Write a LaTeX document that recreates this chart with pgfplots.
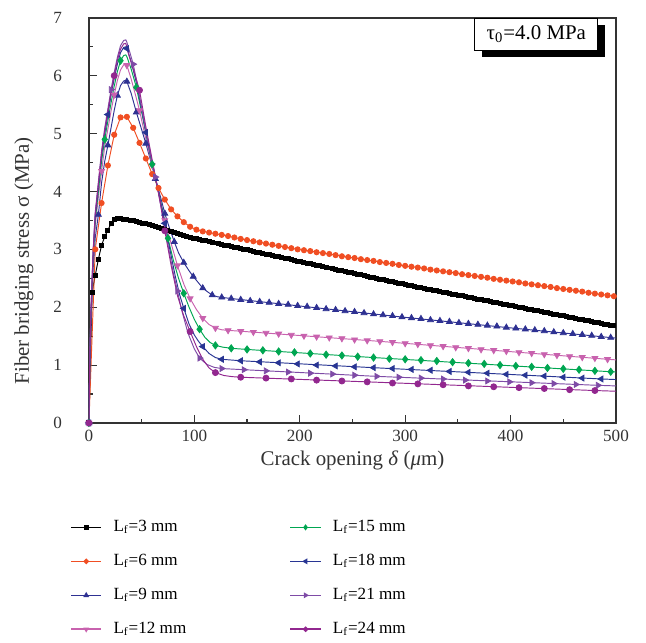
\documentclass[border=0pt]{standalone}
\usepackage{fontspec}
\setmainfont{Liberation Serif}
\usepackage{pgfplots}
\pgfplotsset{compat=1.18}
\usetikzlibrary{shadows}
\definecolor{cRed}{HTML}{F04E23}
\definecolor{cBlue}{HTML}{2E3192}
\definecolor{cPink}{HTML}{C862AE}
\definecolor{cGreen}{HTML}{00A651}
\definecolor{cBlueB}{HTML}{283593}
\definecolor{cPurple}{HTML}{7E4BA6}
\definecolor{cMag}{HTML}{92278F}
\definecolor{axgray}{HTML}{333333}
\begin{document}
\begin{tikzpicture}
\useasboundingbox (-46.8pt,-115.3pt) rectangle (293.2pt,222.6pt);
\begin{axis}[
  at={(0,0)}, anchor=south west,
  scale only axis, width=277.4pt, height=213.2pt,
  xmin=0, xmax=500, ymin=0, ymax=7,
  xtick={0,100,...,500}, ytick={0,1,...,7},
  minor x tick num=1, minor y tick num=1,
  xtick pos=bottom, ytick pos=left,
  tick align=inside,
  major tick length=4pt, minor tick length=2pt,
  axis line style={axgray, line width=0.7pt},
  tick style={axgray, line width=0.6pt},
  tick label style={font=\fontsize{9}{11}\selectfont, text=axgray},
  /pgf/number format/assume math mode=true,
  yticklabel style={xshift=-10.7pt},
  every axis x label/.style={at={(axis description cs:0.5,-0.105)}, anchor=base, font=\fontsize{11}{13}\selectfont, text=axgray},
  every axis y label/.style={at={(axis description cs:-0.114,0.40)}, rotate=90, anchor=base, font=\fontsize{11}{13}\selectfont, text=axgray},
  xlabel={Crack opening \textit{δ} (\textit{μ}m)},
  ylabel={Fiber bridging stress σ (MPa)},
  legend columns=4, transpose legend,
  legend cell align=left,
  legend style={draw=none, fill=none, at={(axis description cs:-0.036,-0.23)}, anchor=north west, inner sep=0pt, row sep=6.4pt, font=\fontsize{9}{11}\selectfont,
    /tikz/every odd column/.append style={column sep=4pt},
    /tikz/every even column/.append style={column sep=52.4pt}},
  legend image code/.code={\draw[mark repeat=2,mark phase=2,#1,mark size=1.0pt,line width=0.8pt] plot coordinates {(0cm,0cm) (0.28cm,0cm) (0.56cm,0cm)};},
]
% ---------- legend images ----------
\addlegendimage{black, mark=square*}
\addlegendentry{L\textsubscript{f}=3 mm}
\addlegendimage{cRed, mark=*}
\addlegendentry{L\textsubscript{f}=6 mm}
\addlegendimage{cBlue, mark=triangle*}
\addlegendentry{L\textsubscript{f}=9 mm}
\addlegendimage{cPink, mark=triangle*, mark options={rotate=180}}
\addlegendentry{L\textsubscript{f}=12 mm}
\addlegendimage{cGreen, mark=diamond*}
\addlegendentry{L\textsubscript{f}=15 mm}
\addlegendimage{cBlueB, mark=triangle*, mark options={rotate=90}}
\addlegendentry{L\textsubscript{f}=18 mm}
\addlegendimage{cPurple, mark=triangle*, mark options={rotate=-90}}
\addlegendentry{L\textsubscript{f}=21 mm}
\addlegendimage{cMag, mark=*}
\addlegendentry{L\textsubscript{f}=24 mm}

% ---------- Lf = 3 mm ----------
\addplot[forget plot, black, line width=0.5pt, mark=square*, mark size=1.05pt] coordinates {
(0,0)(3,2.25)(6,2.55)(9,2.83)(12,3.07)(15,3.22)(18,3.33)(21,3.45)(24,3.51)(27,3.535)(30,3.535)(33,3.52)(36,3.51)(39,3.50)(42,3.492)(45,3.48)(48,3.468)(51,3.455)(54,3.44)(57,3.425)(60,3.41)(63,3.392)(66,3.374)(69,3.356)(72,3.338)(75,3.32)(78,3.302)(81,3.285)(84,3.27)(87,3.255)(90,3.24)(93,3.225)(96,3.21)(99,3.195)(102,3.182)(105,3.17)(108,3.158)(111,3.146)(114,3.134)(117,3.122)(120,3.11)(123,3.098)(126,3.086)(129,3.074)(132,3.062)(135,3.05)(138,3.038)(141,3.026)(144,3.014)(147,3.002)(150,2.99)(153,2.978)(156,2.966)(159,2.954)(162,2.942)(165,2.93)(168,2.918)(171,2.906)(174,2.894)(177,2.882)(180,2.87)(183,2.858)(186,2.846)(189,2.834)(192,2.822)(195,2.81)(198,2.798)(201,2.786)(204,2.774)(207,2.762)(210,2.75)(213,2.738)(216,2.726)(219,2.714)(222,2.702)(225,2.69)(228,2.678)(231,2.666)(234,2.654)(237,2.642)(240,2.63)(243,2.618)(246,2.606)(249,2.594)(252,2.582)(255,2.57)(258,2.558)(261,2.546)(264,2.534)(267,2.522)(270,2.51)(273,2.498)(276,2.486)(279,2.474)(282,2.462)(285,2.45)(288,2.438)(291,2.426)(294,2.414)(297,2.402)(300,2.39)(303,2.379)(306,2.368)(309,2.357)(312,2.347)(315,2.336)(318,2.325)(321,2.314)(324,2.304)(327,2.293)(330,2.282)(333,2.271)(336,2.260)(339,2.250)(342,2.239)(345,2.228)(348,2.217)(351,2.206)(354,2.196)(357,2.185)(360,2.174)(363,2.163)(366,2.152)(369,2.142)(372,2.131)(375,2.12)(378,2.109)(381,2.098)(384,2.088)(387,2.077)(390,2.066)(393,2.055)(396,2.044)(399,2.034)(402,2.023)(405,2.012)(408,2.001)(411,1.990)(414,1.980)(417,1.969)(420,1.958)(423,1.947)(426,1.936)(429,1.926)(432,1.915)(435,1.904)(438,1.893)(441,1.882)(444,1.872)(447,1.861)(450,1.85)(453,1.839)(456,1.828)(459,1.818)(462,1.807)(465,1.796)(468,1.785)(471,1.774)(474,1.764)(477,1.753)(480,1.742)(483,1.731)(486,1.720)(489,1.710)(492,1.699)(495,1.688)(498,1.677)
};

% ---------- Lf = 6 mm ----------
\addplot[forget plot, cRed, line width=0.5pt, mark=*, mark size=1.35pt] coordinates {
(0,0)(6,3.0)(12,3.8)(18,4.45)(24,4.98)(30,5.28)(36,5.29)(42,5.10)(48,4.84)(54,4.57)(60,4.30)(66,4.06)(72,3.86)(78,3.69)(84,3.57)(90,3.47)(96,3.39)(102,3.34)(108,3.31)(114,3.29)(120,3.27)(126,3.25)(132,3.23)(138,3.205)(144,3.18)(150,3.16)(156,3.14)(162,3.12)(168,3.10)(174,3.08)(180,3.06)(186,3.04)(192,3.02)(198,3.00)(204,2.985)(210,2.97)(216,2.95)(222,2.935)(228,2.92)(234,2.90)(240,2.88)(246,2.865)(252,2.85)(258,2.83)(264,2.815)(270,2.80)(276,2.78)(282,2.765)(288,2.75)(294,2.73)(300,2.715)(306,2.70)(312,2.685)(318,2.67)(324,2.65)(330,2.635)(336,2.62)(342,2.605)(348,2.59)(354,2.57)(360,2.555)(366,2.54)(372,2.525)(378,2.51)(384,2.49)(390,2.475)(396,2.46)(402,2.445)(408,2.43)(414,2.41)(420,2.395)(426,2.38)(432,2.365)(438,2.35)(444,2.33)(450,2.315)(456,2.30)(462,2.285)(468,2.27)(474,2.25)(480,2.235)(486,2.22)(492,2.205)(498,2.19)
};

% ---------- Lf = 9 mm ----------
\addplot[forget plot, cBlue, line width=0.5pt, no marks] coordinates {
(0,0)(1,1.18)(2,1.78)(4,2.66)(6,3.2)(9,3.6)(12,4.15)(15,4.52)(18,4.8)(21,5.1)(24,5.4)(27,5.66)(30,5.83)(33,5.91)(35,5.92)(36,5.9)(40,5.7)(45,5.37)(50,5.07)(54,4.83)(58,4.57)(63,4.22)(68,3.9)(72,3.62)(76,3.39)(81,3.13)(85,2.94)(90,2.77)(95,2.63)(99,2.53)(104,2.42)(108,2.33)(113,2.26)(117,2.21)(122,2.18)(126,2.17)(135,2.15)(198,2.025)(297,1.83)(396,1.65)(495,1.475)(500,1.466)
};
\addplot[forget plot, cBlue, only marks, mark=triangle*, mark size=1.8pt] coordinates {
(0,0)(9,3.6)(18,4.8)(27,5.66)(36,5.9)(45,5.37)(54,4.83)(63,4.22)(72,3.62)(81,3.13)(90,2.77)(99,2.53)(108,2.33)(117,2.21)(126,2.17)(135,2.15)(144,2.13)(153,2.11)(162,2.095)(171,2.08)(180,2.06)(189,2.045)(198,2.025)(207,2.01)(216,1.99)(225,1.97)(234,1.955)(243,1.935)(252,1.92)(261,1.90)(270,1.88)(279,1.865)(288,1.85)(297,1.83)(306,1.815)(315,1.80)(324,1.78)(333,1.765)(342,1.75)(351,1.73)(360,1.715)(369,1.70)(378,1.685)(387,1.67)(396,1.65)(405,1.635)(414,1.62)(423,1.605)(432,1.59)(441,1.57)(450,1.555)(459,1.54)(468,1.525)(477,1.51)(486,1.49)(495,1.475)
};

% ---------- Lf = 12 mm ----------
\addplot[forget plot, cPink, line width=0.5pt, no marks] coordinates {
(0,0)(1,1.24)(2,1.86)(4,2.79)(6,3.41)(9,3.91)(12,4.35)(15,4.77)(18,5.08)(21,5.39)(24,5.67)(27,5.92)(30,6.1)(33,6.19)(35,6.2)(36,6.18)(40,5.95)(44,5.68)(48,5.40)(52,5.07)(56,4.75)(60,4.45)(64,4.15)(68,3.83)(72,3.5)(78,3.1)(84,2.72)(90,2.4)(96,2.15)(102,1.96)(108,1.81)(114,1.7)(120,1.64)(126,1.61)(132,1.60)(144,1.585)(276,1.41)(492,1.10)(500,1.09)
};
\addplot[forget plot, cPink, only marks, mark=triangle*, mark size=1.8pt, mark options={rotate=180}] coordinates {
(0,0)(12,4.35)(24,5.67)(36,6.18)(48,5.40)(60,4.45)(72,3.5)(84,2.72)(96,2.15)(108,1.81)(120,1.64)(132,1.60)(144,1.585)(156,1.57)(168,1.555)(180,1.54)(192,1.52)(204,1.505)(216,1.49)(228,1.475)(240,1.46)(252,1.44)(264,1.425)(276,1.41)(288,1.395)(300,1.375)(312,1.36)(324,1.34)(336,1.325)(348,1.305)(360,1.29)(372,1.27)(384,1.255)(396,1.24)(408,1.22)(420,1.205)(432,1.185)(444,1.17)(456,1.15)(468,1.135)(480,1.12)(492,1.10)
};

% ---------- Lf = 15 mm ----------
\addplot[forget plot, cGreen, line width=0.5pt, no marks] coordinates {
(0,0)(1,1.27)(2,1.91)(4,2.86)(6,3.5)(9,4.0)(12,4.52)(15,4.9)(18,5.22)(21,5.53)(24,5.82)(27,6.07)(30,6.26)(33,6.35)(35,6.36)(36,6.33)(40,6.12)(45,5.8)(50,5.37)(55,4.92)(60,4.47)(64,4.15)(70,3.66)(75,3.19)(80,2.82)(85,2.50)(90,2.24)(95,2.0)(100,1.79)(105,1.62)(110,1.48)(115,1.39)(120,1.34)(127,1.31)(135,1.29)(150,1.27)(270,1.13)(495,0.885)(500,0.88)
};
\addplot[forget plot, cGreen, only marks, mark=diamond*, mark size=1.9pt] coordinates {
(0,0)(15,4.9)(30,6.26)(45,5.8)(60,4.47)(75,3.19)(90,2.24)(105,1.62)(120,1.34)(135,1.29)(150,1.27)(165,1.255)(180,1.235)(195,1.22)(210,1.20)(225,1.18)(240,1.165)(255,1.145)(270,1.13)(285,1.11)(300,1.10)(315,1.085)(330,1.07)(345,1.05)(360,1.035)(375,1.02)(390,1.00)(405,0.985)(420,0.97)(435,0.95)(450,0.935)(465,0.92)(480,0.90)(495,0.885)
};

% ---------- Lf = 18 mm ----------
\addplot[forget plot, cBlueB, line width=0.5pt, no marks] coordinates {
(0,0)(1,1.3)(2,1.95)(4,2.93)(6,3.58)(9,4.1)(12,4.62)(15,5.0)(18,5.33)(21,5.66)(24,5.95)(27,6.2)(30,6.4)(33,6.49)(35,6.5)(36,6.47)(40,6.25)(45,5.88)(50,5.42)(54,5.02)(58,4.67)(64,4.17)(68,3.81)(72,3.45)(76,3.07)(82,2.53)(86,2.22)(90,1.98)(95,1.71)(100,1.52)(104,1.41)(108,1.32)(114,1.2)(120,1.13)(126,1.10)(144,1.075)(270,0.955)(486,0.76)(500,0.75)
};
\addplot[forget plot, cBlueB, only marks, mark=triangle*, mark size=1.8pt, mark options={rotate=90}] coordinates {
(0,0)(18,5.33)(36,6.47)(54,5.02)(72,3.45)(90,1.98)(108,1.32)(126,1.10)(144,1.075)(162,1.055)(180,1.04)(198,1.02)(216,1.0)(234,0.985)(252,0.97)(270,0.955)(288,0.94)(306,0.925)(324,0.91)(342,0.89)(360,0.875)(378,0.86)(396,0.84)(414,0.825)(432,0.81)(450,0.79)(468,0.775)(486,0.76)
};

% ---------- Lf = 21 mm ----------
\addplot[forget plot, cPurple, line width=0.5pt, no marks] coordinates {
(0,0)(1,1.32)(2,1.99)(4,2.98)(6,3.64)(9,4.17)(12,4.7)(15,5.1)(18,5.43)(21,5.76)(24,6.06)(27,6.32)(30,6.52)(33,6.61)(35,6.62)(36,6.58)(40,6.33)(42,6.2)(46,5.85)(50,5.45)(55,4.95)(60,4.5)(63,4.25)(66,3.97)(70,3.58)(76,2.98)(80,2.6)(84,2.28)(88,1.95)(94,1.55)(100,1.28)(105,1.12)(112,1.01)(119,0.96)(126,0.94)(147,0.92)(273,0.805)(483,0.65)(500,0.64)
};
\addplot[forget plot, cPurple, only marks, mark=triangle*, mark size=1.8pt, mark options={rotate=-90}] coordinates {
(0,0)(21,5.76)(42,6.2)(63,4.25)(84,2.28)(105,1.12)(126,0.94)(147,0.92)(168,0.90)(189,0.88)(210,0.86)(231,0.845)(252,0.825)(273,0.805)(294,0.79)(315,0.775)(336,0.76)(357,0.74)(378,0.725)(399,0.71)(420,0.695)(441,0.68)(462,0.665)(483,0.65)
};

% ---------- Lf = 24 mm ----------
\addplot[forget plot, cMag, line width=0.5pt, no marks] coordinates {
(0,0)(1,1.31)(2,1.97)(4,2.95)(6,3.61)(9,4.13)(12,4.66)(15,5.05)(18,5.38)(21,5.71)(24,6.0)(27,6.27)(30,6.46)(33,6.55)(35,6.56)(38,6.35)(42,6.12)(48,5.75)(54,5.12)(60,4.55)(64,4.17)(68,3.77)(72,3.32)(78,2.72)(84,2.2)(90,1.85)(96,1.58)(102,1.32)(108,1.1)(114,0.95)(120,0.87)(128,0.82)(136,0.80)(144,0.79)(264,0.71)(480,0.56)(500,0.548)
};
\addplot[forget plot, cMag, only marks, mark=*, mark size=1.6pt] coordinates {
(0,0)(24,6.0)(48,5.75)(72,3.32)(96,1.58)(120,0.87)(144,0.79)(168,0.775)(192,0.76)(216,0.74)(240,0.725)(264,0.71)(288,0.69)(312,0.675)(336,0.66)(360,0.64)(384,0.625)(408,0.61)(432,0.595)(456,0.575)(480,0.56)
};

\node[draw=black, fill=white, line width=0.5pt, minimum width=64.7pt, minimum height=16.8pt, inner sep=0pt, anchor=north,
      drop shadow={shadow xshift=3.6pt, shadow yshift=-3.6pt, fill=black, opacity=1},
      font=\fontsize{11}{13}\selectfont]
  at (rel axis cs:0.849,1) {τ\textsubscript{0}=4.0 MPa};
\end{axis}
\end{tikzpicture}
\end{document}
